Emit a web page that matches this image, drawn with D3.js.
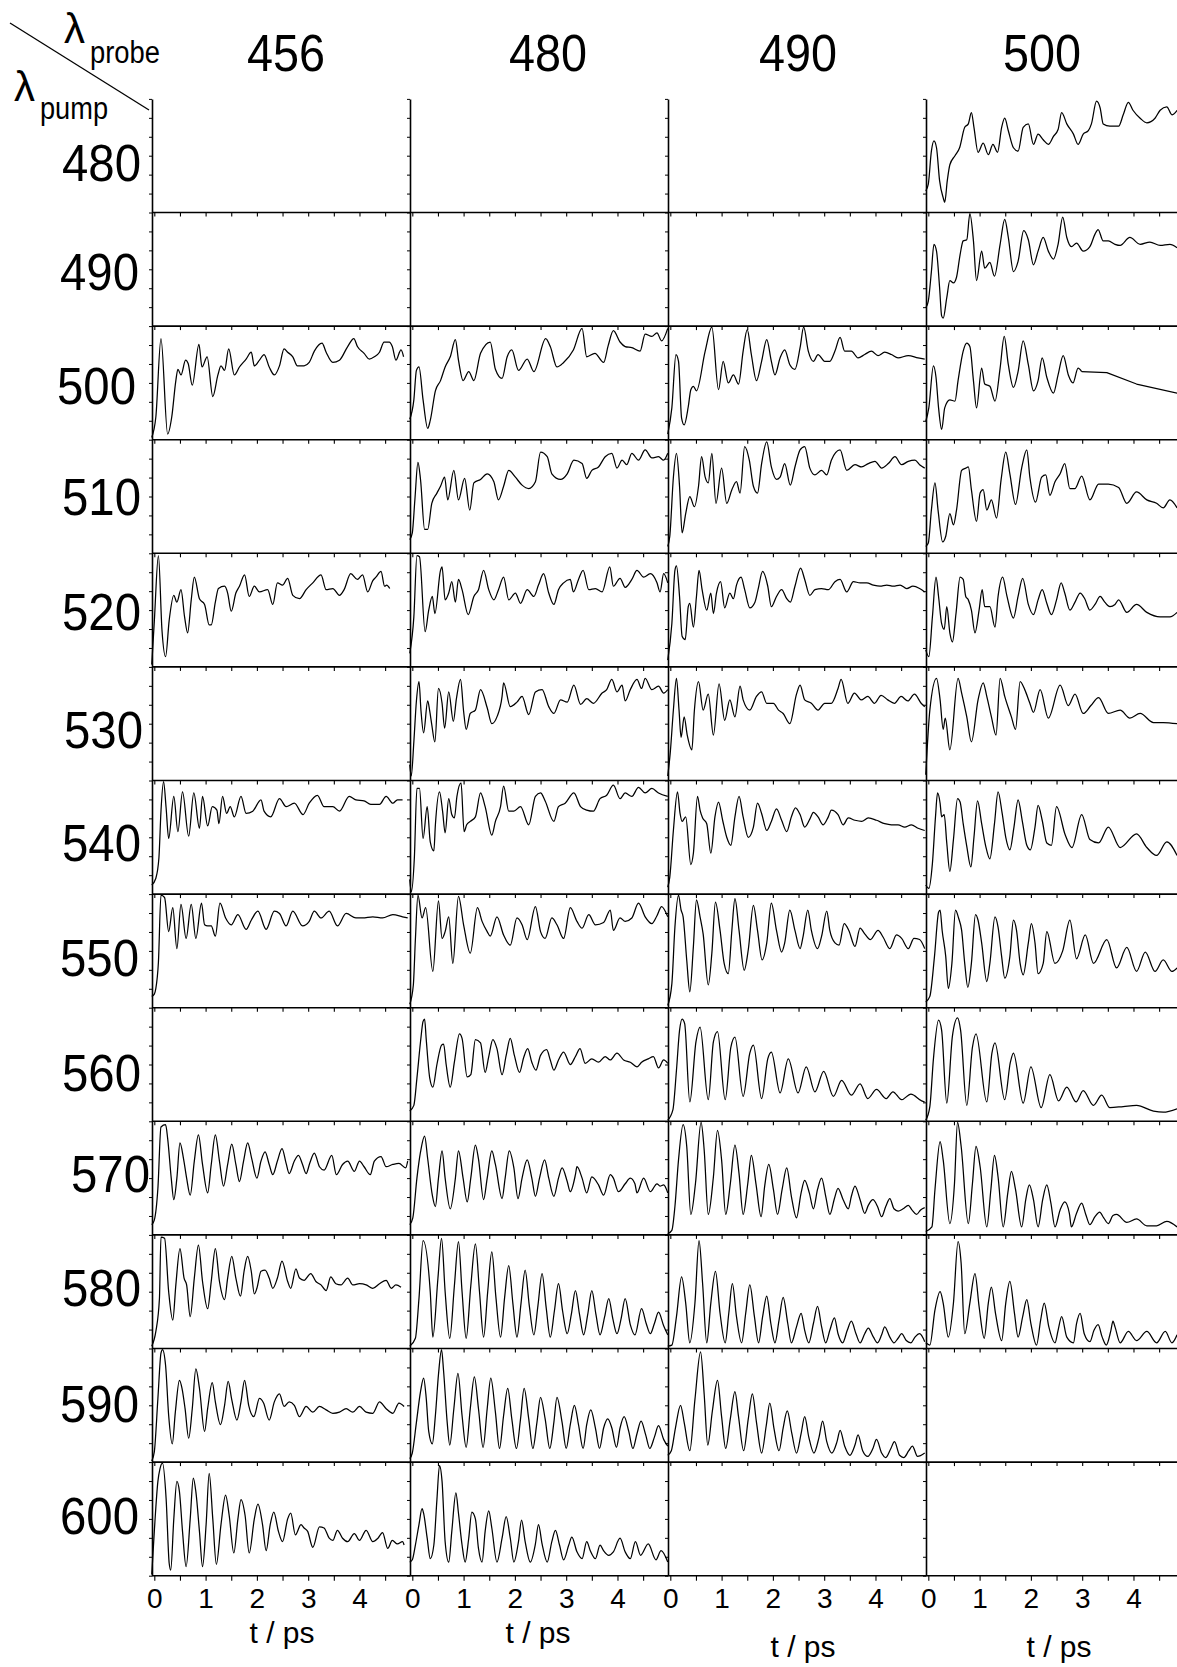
<!DOCTYPE html>
<html><head><meta charset="utf-8">
<script src="https://cdn.jsdelivr.net/npm/d3@7"></script>
<style>
body{margin:0;background:#fff}
svg{display:block}
text{font-family:"Liberation Sans",Arial,Helvetica,sans-serif;fill:#000}
</style>
</head><body>
<svg id="chart" width="1177" height="1667"></svg>
<script>
// ---------------- categories & ticks ----------------
const probeWavelengths = [456, 480, 490, 500];
const pumpWavelengths = [480, 490, 500, 510, 520, 530, 540, 550, 560, 570, 580, 590, 600];
const timeTickLabels = [0, 1, 2, 3, 4];
const timeMinorTicks = [0, 0.5, 1, 1.5, 2, 2.5, 3, 3.5, 4, 4.5];
const timeDomain = [-0.045, 4.985];
const signalDomain = [0, 100];

// ---------------- traces: [t (ps), normalised signal (%)] ----------------
const d480_500 = [[-0.05,19],[0.0,25],[0.06,54],[0.11,63],[0.16,57],[0.22,28],[0.29,13],[0.32,9],[0.37,28],[0.42,42],[0.52,50],[0.61,57],[0.71,75],[0.78,78],[0.84,88],[0.89,75],[0.97,53],[1.07,61],[1.17,51],[1.26,60],[1.35,53],[1.43,75],[1.49,83],[1.56,72],[1.66,57],[1.75,54],[1.85,75],[1.95,78],[2.05,60],[2.14,69],[2.24,64],[2.34,60],[2.44,67],[2.53,73],[2.60,88],[2.70,78],[2.83,69],[2.92,60],[3.02,69],[3.12,72],[3.18,78],[3.28,98],[3.35,92],[3.41,78],[3.54,76],[3.71,76],[3.80,86],[3.90,97],[3.99,90],[4.13,83],[4.26,79],[4.42,83],[4.52,90],[4.65,93],[4.75,86],[4.85,90]];
const d490_500 = [[-0.05,16],[0.0,22],[0.06,48],[0.11,72],[0.16,66],[0.22,34],[0.26,9],[0.29,7],[0.36,25],[0.42,40],[0.49,38],[0.55,43],[0.62,63],[0.68,75],[0.75,76],[0.81,99],[0.88,75],[0.94,40],[1.04,66],[1.10,51],[1.20,56],[1.29,44],[1.40,72],[1.49,94],[1.56,78],[1.66,48],[1.75,57],[1.86,84],[1.95,76],[2.05,54],[2.14,66],[2.24,78],[2.34,66],[2.44,59],[2.53,72],[2.62,96],[2.70,78],[2.79,70],[2.89,73],[3.02,66],[3.15,70],[3.25,81],[3.31,85],[3.41,75],[3.51,75],[3.64,72],[3.74,71],[3.93,78],[4.13,72],[4.32,74],[4.52,71],[4.71,72],[4.85,69]];
const d500_456 = [[-0.05,2],[0.03,20],[0.13,89],[0.26,5],[0.34,20],[0.42,52],[0.46,62],[0.52,57],[0.61,70],[0.66,67],[0.74,48],[0.87,84],[0.93,64],[1.03,73],[1.14,38],[1.24,57],[1.30,65],[1.37,61],[1.45,80],[1.56,57],[1.66,64],[1.79,71],[1.89,77],[1.95,65],[2.05,70],[2.14,75],[2.24,64],[2.34,57],[2.44,65],[2.53,80],[2.60,77],[2.70,73],[2.79,65],[2.92,65],[3.02,68],[3.12,78],[3.27,85],[3.35,77],[3.48,68],[3.61,70],[3.77,82],[3.89,89],[3.96,82],[4.09,76],[4.19,71],[4.29,73],[4.39,77],[4.48,86],[4.58,86],[4.64,82],[4.71,70],[4.81,79],[4.86,73]];
const d500_480 = [[-0.05,18],[0.03,35],[0.08,61],[0.13,64],[0.21,35],[0.30,10],[0.35,17],[0.45,43],[0.55,52],[0.64,64],[0.74,73],[0.84,88],[0.90,70],[0.99,52],[1.10,60],[1.20,52],[1.33,76],[1.52,86],[1.62,62],[1.75,54],[1.85,73],[1.94,79],[2.07,61],[2.24,71],[2.37,60],[2.60,89],[2.69,82],[2.82,64],[2.95,68],[3.14,79],[3.31,98],[3.40,73],[3.56,76],[3.73,68],[3.82,83],[3.92,96],[4.05,86],[4.15,82],[4.28,81],[4.44,78],[4.54,93],[4.67,91],[4.77,94],[4.86,87],[4.98,98]];
const d500_490 = [[-0.05,5],[0.03,28],[0.11,75],[0.16,69],[0.22,19],[0.27,13],[0.35,29],[0.40,44],[0.45,47],[0.51,43],[0.68,78],[0.81,99],[0.94,44],[1.03,69],[1.13,50],[1.23,57],[1.33,49],[1.42,78],[1.50,97],[1.58,75],[1.68,52],[1.78,69],[1.88,88],[1.97,69],[2.04,57],[2.14,72],[2.23,79],[2.33,66],[2.43,62],[2.53,81],[2.60,99],[2.69,78],[2.79,69],[2.88,75],[3.01,69],[3.11,69],[3.21,78],[3.31,90],[3.40,78],[3.53,78],[3.66,72],[3.79,75],[3.92,78],[4.05,74],[4.18,77],[4.31,75],[4.44,72],[4.64,74],[4.83,72],[4.96,71]];
const d500_500 = [[-0.05,16],[0.01,28],[0.10,65],[0.15,55],[0.20,28],[0.26,9],[0.32,28],[0.42,35],[0.52,34],[0.58,52],[0.68,78],[0.75,85],[0.81,82],[0.88,52],[0.94,28],[1.04,63],[1.10,49],[1.20,47],[1.30,34],[1.40,63],[1.48,91],[1.56,66],[1.66,46],[1.75,60],[1.85,87],[1.95,66],[2.05,43],[2.14,52],[2.22,72],[2.31,55],[2.44,41],[2.53,57],[2.63,74],[2.73,57],[2.82,50],[2.92,63],[2.99,60],[3.48,59],[4.06,49],[4.85,41]];
const d510_480 = [[-0.05,12],[0.0,18],[0.05,47],[0.11,80],[0.16,65],[0.24,21],[0.30,21],[0.38,44],[0.48,53],[0.55,59],[0.63,67],[0.69,47],[0.81,73],[0.90,47],[1.02,66],[1.12,38],[1.20,62],[1.33,65],[1.46,70],[1.59,63],[1.68,47],[1.78,59],[1.88,73],[2.01,67],[2.14,60],[2.27,57],[2.40,63],[2.50,89],[2.63,85],[2.72,70],[2.89,65],[3.02,70],[3.15,82],[3.31,79],[3.40,66],[3.50,73],[3.63,76],[3.76,85],[3.89,88],[3.99,75],[4.09,82],[4.18,78],[4.28,88],[4.41,82],[4.54,91],[4.67,84],[4.80,85],[4.90,82],[4.98,88]];
const d510_490 = [[-0.05,6],[-0.01,15],[0.06,67],[0.12,88],[0.18,59],[0.23,18],[0.30,35],[0.38,50],[0.47,41],[0.55,59],[0.61,85],[0.68,67],[0.74,62],[0.81,88],[0.89,44],[1.0,75],[1.10,44],[1.20,56],[1.29,63],[1.36,53],[1.45,94],[1.54,82],[1.62,59],[1.70,53],[1.78,79],[1.88,98],[1.97,76],[2.07,65],[2.14,67],[2.23,79],[2.34,60],[2.43,76],[2.53,91],[2.62,94],[2.72,75],[2.82,69],[2.95,73],[3.05,69],[3.14,82],[3.31,91],[3.44,73],[3.60,78],[3.73,76],[3.86,79],[3.99,81],[4.12,75],[4.25,79],[4.38,85],[4.51,78],[4.64,81],[4.77,82],[4.86,78],[4.96,75]];
const d510_500 = [[-0.05,6],[0.0,9],[0.06,38],[0.13,62],[0.19,38],[0.28,10],[0.34,15],[0.42,35],[0.49,25],[0.55,38],[0.65,73],[0.73,75],[0.78,76],[0.84,56],[0.94,28],[1.01,53],[1.07,56],[1.14,38],[1.23,47],[1.33,31],[1.42,65],[1.51,89],[1.59,70],[1.70,43],[1.82,75],[1.92,91],[1.98,67],[2.09,45],[2.21,67],[2.29,69],[2.37,51],[2.47,63],[2.57,70],[2.66,79],[2.76,57],[2.86,57],[2.99,68],[3.15,47],[3.32,61],[3.51,61],[3.71,58],[3.87,44],[4.06,54],[4.26,47],[4.45,44],[4.58,40],[4.71,47],[4.85,40]];
const d520_456 = [[-0.05,2],[0.0,40],[0.08,98],[0.15,32],[0.22,9],[0.29,41],[0.38,63],[0.44,57],[0.52,68],[0.59,44],[0.65,30],[0.72,59],[0.78,79],[0.88,60],[0.98,55],[1.07,37],[1.11,37],[1.19,57],[1.25,69],[1.37,71],[1.43,65],[1.50,49],[1.59,65],[1.66,71],[1.76,81],[1.85,62],[1.95,71],[2.05,66],[2.21,68],[2.31,55],[2.40,74],[2.50,72],[2.60,78],[2.70,63],[2.83,60],[2.96,68],[3.09,74],[3.25,81],[3.35,68],[3.48,69],[3.61,63],[3.70,68],[3.83,82],[3.96,77],[4.06,81],[4.16,66],[4.26,76],[4.32,79],[4.42,84],[4.49,71],[4.53,72],[4.59,69]];
const d520_480 = [[-0.05,12],[0.03,44],[0.09,98],[0.14,97],[0.25,31],[0.32,50],[0.39,62],[0.44,47],[0.55,85],[0.58,88],[0.64,59],[0.71,65],[0.77,75],[0.84,57],[0.90,77],[0.97,68],[1.09,46],[1.20,62],[1.29,68],[1.39,85],[1.49,68],[1.59,59],[1.68,68],[1.78,79],[1.88,59],[2.01,65],[2.11,56],[2.24,68],[2.37,62],[2.46,72],[2.56,82],[2.66,65],[2.76,55],[2.85,68],[2.95,74],[3.08,77],[3.14,66],[3.24,77],[3.33,85],[3.44,68],[3.57,69],[3.70,66],[3.85,88],[3.92,71],[4.05,78],[4.15,70],[4.28,77],[4.38,85],[4.51,79],[4.64,82],[4.77,74],[4.83,66],[4.90,82],[4.98,74]];
const d520_490 = [[-0.05,6],[0.03,38],[0.09,85],[0.12,89],[0.18,62],[0.23,27],[0.29,24],[0.35,53],[0.38,56],[0.45,35],[0.51,62],[0.56,85],[0.62,68],[0.71,50],[0.79,65],[0.84,47],[0.90,65],[0.98,75],[1.06,52],[1.16,65],[1.23,60],[1.29,72],[1.38,79],[1.45,68],[1.55,52],[1.65,57],[1.71,68],[1.80,84],[1.90,71],[1.97,53],[2.07,62],[2.17,68],[2.27,60],[2.34,57],[2.43,71],[2.54,87],[2.62,77],[2.72,63],[2.82,68],[2.95,69],[3.08,68],[3.21,75],[3.31,77],[3.44,66],[3.57,75],[3.70,74],[3.83,74],[3.96,72],[4.09,71],[4.22,72],[4.35,71],[4.48,72],[4.61,69],[4.73,71],[4.86,69],[4.96,66]];
const d520_500 = [[-0.05,15],[0.01,9],[0.08,44],[0.15,79],[0.20,62],[0.26,38],[0.31,33],[0.36,53],[0.42,30],[0.47,22],[0.54,47],[0.62,79],[0.68,77],[0.73,62],[0.78,59],[0.84,50],[0.91,30],[0.99,50],[1.05,68],[1.10,53],[1.20,53],[1.30,35],[1.36,62],[1.45,79],[1.53,63],[1.66,43],[1.75,62],[1.84,78],[1.95,55],[2.05,46],[2.14,59],[2.22,68],[2.31,56],[2.40,46],[2.50,59],[2.59,74],[2.66,65],[2.76,50],[2.86,57],[2.96,65],[3.05,60],[3.15,50],[3.25,55],[3.35,62],[3.44,57],[3.54,53],[3.64,55],[3.71,59],[3.87,48],[4.06,55],[4.26,48],[4.52,44],[4.71,44],[4.85,48]];
const d530_480 = [[-0.05,14],[-0.02,4],[0.03,34],[0.08,70],[0.13,87],[0.17,61],[0.22,42],[0.30,70],[0.34,61],[0.38,49],[0.44,34],[0.51,81],[0.58,68],[0.63,46],[0.71,78],[0.80,52],[0.86,72],[0.94,89],[1.00,61],[1.05,45],[1.13,59],[1.23,62],[1.33,80],[1.46,64],[1.55,50],[1.65,56],[1.75,74],[1.78,86],[1.91,65],[2.04,69],[2.14,74],[2.27,58],[2.40,78],[2.53,80],[2.66,65],[2.76,59],[2.89,71],[3.02,69],[3.15,84],[3.28,67],[3.40,72],[3.53,68],[3.70,77],[3.79,80],[3.89,89],[3.99,78],[4.09,84],[4.15,70],[4.25,80],[4.38,89],[4.47,81],[4.54,90],[4.67,80],[4.80,83],[4.90,77],[4.98,80]];
const d530_490 = [[-0.05,4],[0.0,25],[0.06,62],[0.12,90],[0.17,62],[0.21,38],[0.27,56],[0.33,40],[0.42,27],[0.47,62],[0.55,87],[0.64,62],[0.74,76],[0.84,40],[0.95,85],[1.06,53],[1.16,71],[1.26,56],[1.36,83],[1.42,71],[1.55,62],[1.68,74],[1.78,78],[1.88,68],[2.01,68],[2.11,62],[2.20,59],[2.33,50],[2.46,76],[2.53,84],[2.62,71],[2.75,68],[2.88,62],[3.01,68],[3.14,68],[3.27,81],[3.33,89],[3.46,68],[3.59,77],[3.72,71],[3.85,74],[3.98,68],[4.11,75],[4.24,71],[4.37,68],[4.50,74],[4.63,70],[4.76,76],[4.89,68],[4.96,65]];
const d530_500 = [[-0.05,5],[0.03,62],[0.16,90],[0.23,71],[0.29,45],[0.33,55],[0.42,27],[0.58,90],[0.65,77],[0.75,56],[0.84,34],[0.97,71],[1.07,86],[1.14,74],[1.23,56],[1.32,40],[1.40,90],[1.49,74],[1.62,56],[1.70,45],[1.79,87],[1.88,80],[1.98,68],[2.05,60],[2.18,80],[2.34,55],[2.57,84],[2.73,66],[2.86,76],[3.02,59],[3.17,66],[3.32,73],[3.51,59],[3.74,62],[3.93,55],[4.13,59],[4.39,51],[4.58,51],[4.85,50]];
const d540_456 = [[-0.05,8],[0.03,14],[0.09,32],[0.13,73],[0.18,99],[0.23,76],[0.28,49],[0.38,86],[0.46,55],[0.55,90],[0.67,51],[0.77,89],[0.88,58],[0.94,86],[1.04,60],[1.13,77],[1.22,74],[1.26,62],[1.33,86],[1.41,71],[1.48,77],[1.56,68],[1.69,86],[1.79,71],[1.92,73],[2.08,83],[2.14,73],[2.27,68],[2.44,84],[2.57,77],[2.73,80],[2.90,70],[3.02,80],[3.18,87],[3.31,77],[3.48,77],[3.61,73],[3.80,86],[3.93,83],[4.09,82],[4.22,79],[4.39,79],[4.52,86],[4.65,80],[4.74,83],[4.84,83]];
const d540_480 = [[-0.05,13],[-0.02,2],[0.04,32],[0.09,93],[0.14,93],[0.21,49],[0.29,77],[0.35,46],[0.42,38],[0.45,61],[0.53,90],[0.59,73],[0.64,54],[0.71,84],[0.77,70],[0.82,67],[0.87,86],[0.95,98],[1.01,55],[1.06,61],[1.13,64],[1.23,68],[1.33,89],[1.42,77],[1.55,52],[1.62,64],[1.72,77],[1.78,95],[1.88,73],[1.98,73],[2.11,77],[2.27,61],[2.40,86],[2.50,89],[2.59,82],[2.76,64],[2.85,77],[2.98,80],[3.15,89],[3.28,77],[3.40,74],[3.53,73],[3.66,84],[3.79,87],[3.92,96],[4.05,84],[4.15,89],[4.28,86],[4.41,94],[4.54,89],[4.67,93],[4.80,89],[4.98,86]];
const d540_490 = [[-0.05,6],[-0.01,15],[0.06,56],[0.14,90],[0.19,71],[0.23,64],[0.30,68],[0.40,26],[0.45,36],[0.53,86],[0.58,74],[0.63,67],[0.71,62],[0.79,36],[0.87,68],[0.94,81],[1.02,65],[1.10,50],[1.18,43],[1.26,68],[1.34,86],[1.42,68],[1.52,50],[1.62,59],[1.70,80],[1.78,71],[1.88,56],[1.97,64],[2.07,75],[2.17,65],[2.27,55],[2.36,68],[2.44,76],[2.53,70],[2.62,59],[2.72,66],[2.79,72],[2.88,68],[2.98,61],[3.08,68],[3.14,74],[3.27,70],[3.37,61],[3.47,67],[3.60,65],[3.73,64],[3.86,67],[4.02,65],[4.18,62],[4.31,61],[4.44,61],[4.57,59],[4.70,61],[4.83,58],[4.96,56]];
const d540_500 = [[-0.05,8],[0.01,5],[0.08,27],[0.14,68],[0.18,89],[0.23,80],[0.26,68],[0.31,70],[0.36,45],[0.42,20],[0.49,48],[0.57,84],[0.62,81],[0.68,62],[0.75,42],[0.83,24],[0.89,50],[0.96,82],[1.04,62],[1.12,42],[1.20,31],[1.29,62],[1.36,90],[1.44,71],[1.51,50],[1.59,39],[1.67,59],[1.75,83],[1.83,65],[1.92,43],[1.99,39],[2.08,59],[2.14,78],[2.22,65],[2.31,45],[2.40,43],[2.50,77],[2.67,52],[2.80,41],[2.99,70],[3.15,48],[3.32,45],[3.51,59],[3.74,41],[4.06,53],[4.26,41],[4.45,34],[4.65,46],[4.85,34]];
const d550_456 = [[-0.05,10],[0.0,12],[0.03,17],[0.08,40],[0.13,99],[0.20,97],[0.28,67],[0.36,88],[0.44,52],[0.52,91],[0.62,61],[0.72,91],[0.81,61],[0.92,92],[0.98,73],[1.04,72],[1.11,72],[1.19,63],[1.28,92],[1.39,79],[1.50,73],[1.63,82],[1.79,69],[1.89,77],[2.02,85],[2.18,69],[2.34,85],[2.44,83],[2.57,72],[2.70,85],[2.89,72],[3.02,76],[3.12,85],[3.25,79],[3.41,85],[3.57,72],[3.74,83],[3.93,79],[4.06,79],[4.26,80],[4.45,79],[4.65,82],[4.84,80],[4.94,79]];
const d550_480 = [[-0.05,3],[0.02,20],[0.06,60],[0.11,99],[0.19,79],[0.26,88],[0.40,32],[0.51,94],[0.58,61],[0.64,67],[0.71,80],[0.79,39],[0.90,98],[1.00,73],[1.13,48],[1.27,88],[1.36,76],[1.46,67],[1.52,63],[1.65,80],[1.78,64],[1.91,55],[2.04,79],[2.14,73],[2.24,60],[2.40,89],[2.50,67],[2.59,61],[2.72,79],[2.82,73],[2.95,61],[3.08,88],[3.21,76],[3.31,70],[3.44,82],[3.57,73],[3.73,75],[3.86,86],[3.92,68],[4.05,79],[4.15,76],[4.28,79],[4.41,92],[4.54,80],[4.67,74],[4.77,81],[4.86,89],[4.98,80]];
const d550_490 = [[-0.05,2],[0.03,21],[0.09,71],[0.16,99],[0.21,86],[0.25,80],[0.32,42],[0.38,14],[0.45,54],[0.51,95],[0.58,80],[0.64,65],[0.74,20],[0.81,48],[0.88,93],[0.97,68],[1.05,39],[1.13,30],[1.20,68],[1.26,96],[1.34,68],[1.44,33],[1.52,51],[1.62,90],[1.70,68],[1.79,42],[1.88,57],[1.97,92],[2.07,68],[2.17,49],[2.23,57],[2.33,86],[2.43,68],[2.53,52],[2.59,63],[2.68,86],[2.75,68],[2.87,52],[2.95,63],[3.05,85],[3.11,68],[3.21,57],[3.29,55],[3.39,74],[3.48,68],[3.60,54],[3.70,70],[3.79,65],[3.90,60],[4.05,68],[4.15,62],[4.28,52],[4.41,64],[4.51,61],[4.64,52],[4.75,61],[4.86,60],[4.96,52]];
const d550_500 = [[-0.05,5],[0.03,10],[0.12,45],[0.20,84],[0.23,86],[0.27,68],[0.34,45],[0.39,17],[0.46,39],[0.53,86],[0.59,79],[0.65,68],[0.71,39],[0.77,18],[0.84,39],[0.92,82],[0.97,77],[1.04,57],[1.14,23],[1.20,39],[1.30,80],[1.36,71],[1.43,45],[1.49,26],[1.59,45],[1.66,77],[1.72,68],[1.79,39],[1.85,29],[1.95,57],[2.01,74],[2.08,57],[2.14,30],[2.24,39],[2.31,67],[2.47,39],[2.62,50],[2.76,77],[2.89,43],[3.06,64],[3.22,39],[3.48,60],[3.67,35],[3.87,53],[4.06,32],[4.23,49],[4.42,32],[4.58,42],[4.75,32],[4.85,35]];
const d560_480 = [[-0.05,9],[0.03,14],[0.09,38],[0.16,70],[0.21,88],[0.24,90],[0.27,73],[0.34,38],[0.40,30],[0.48,50],[0.57,67],[0.61,68],[0.66,50],[0.74,30],[0.82,52],[0.92,77],[0.97,73],[1.07,39],[1.14,41],[1.23,72],[1.33,69],[1.42,43],[1.49,57],[1.57,72],[1.65,64],[1.75,41],[1.83,58],[1.91,73],[1.99,58],[2.09,43],[2.17,56],[2.25,64],[2.33,52],[2.41,45],[2.50,58],[2.62,63],[2.69,54],[2.76,45],[2.85,54],[2.95,61],[3.08,50],[3.18,57],[3.27,64],[3.37,51],[3.50,55],[3.63,52],[3.76,57],[3.86,54],[3.99,60],[4.12,54],[4.25,52],[4.38,48],[4.47,52],[4.6,55],[4.70,57],[4.8,47],[4.9,54],[4.98,51]];
const d560_490 = [[-0.05,1],[0.05,10],[0.12,45],[0.18,80],[0.23,90],[0.28,86],[0.38,17],[0.50,70],[0.58,83],[0.74,19],[0.84,70],[0.92,79],[1.07,19],[1.18,65],[1.26,74],[1.42,22],[1.55,60],[1.62,67],[1.78,20],[1.90,55],[1.97,61],[2.14,25],[2.30,55],[2.49,25],[2.65,48],[2.82,26],[2.99,44],[3.18,22],[3.34,36],[3.53,23],[3.70,33],[3.85,20],[4.02,28],[4.21,20],[4.34,26],[4.51,19],[4.69,24],[4.90,18],[4.96,17]];
const d560_500 = [[-0.05,1],[0.03,13],[0.10,55],[0.20,89],[0.26,80],[0.36,16],[0.47,75],[0.57,91],[0.63,80],[0.75,14],[0.86,65],[0.93,77],[1.14,17],[1.24,60],[1.30,69],[1.49,19],[1.60,52],[1.66,60],[1.85,16],[2.0,48],[2.20,12],[2.37,41],[2.54,18],[2.70,30],[2.88,17],[3.02,27],[3.22,14],[3.38,23],[3.54,12],[3.80,13],[4.06,14],[4.39,9],[4.58,8],[4.85,11]];
const d570_456 = [[-0.05,9],[0.0,13],[0.07,41],[0.13,95],[0.22,97],[0.26,85],[0.33,50],[0.38,31],[0.44,50],[0.50,81],[0.57,67],[0.63,50],[0.70,35],[0.78,65],[0.86,88],[0.94,62],[1.04,37],[1.11,62],[1.19,88],[1.27,65],[1.35,43],[1.43,62],[1.51,80],[1.59,62],[1.66,47],[1.74,65],[1.82,81],[1.90,67],[2.00,50],[2.08,65],[2.16,73],[2.24,62],[2.31,53],[2.40,65],[2.49,76],[2.57,63],[2.63,54],[2.73,65],[2.81,70],[2.89,62],[2.96,54],[3.03,63],[3.12,72],[3.22,60],[3.31,57],[3.46,70],[3.55,53],[3.67,62],[3.77,65],[3.90,56],[4.00,65],[4.09,60],[4.21,53],[4.29,65],[4.42,69],[4.52,60],[4.65,62],[4.77,63],[4.90,59],[4.94,65]];
const d570_480 = [[-0.05,9],[0.01,15],[0.09,50],[0.16,73],[0.24,87],[0.30,67],[0.39,35],[0.45,25],[0.51,50],[0.58,74],[0.64,50],[0.74,23],[0.84,50],[0.90,74],[0.99,50],[1.07,29],[1.14,50],[1.23,79],[1.29,67],[1.39,31],[1.46,50],[1.55,74],[1.62,62],[1.75,32],[1.81,50],[1.89,74],[1.98,59],[2.06,32],[2.14,50],[2.24,66],[2.33,50],[2.40,34],[2.48,50],[2.58,66],[2.66,50],[2.76,34],[2.85,50],[2.92,59],[3.02,47],[3.08,38],[3.18,53],[3.21,60],[3.31,50],[3.40,37],[3.50,51],[3.63,44],[3.73,35],[3.86,53],[3.92,50],[4.02,38],[4.15,45],[4.25,50],[4.34,45],[4.38,37],[4.51,50],[4.64,38],[4.77,45],[4.83,43],[4.90,44],[4.98,37]];
const d570_490 = [[-0.05,1],[0.03,4],[0.09,25],[0.16,66],[0.25,97],[0.32,78],[0.40,18],[0.49,45],[0.60,99],[0.66,75],[0.74,18],[0.84,51],[0.92,92],[1.0,66],[1.08,18],[1.17,45],[1.26,79],[1.34,54],[1.42,18],[1.51,45],[1.58,70],[1.67,45],[1.77,16],[1.84,43],[1.92,62],[2.01,40],[2.09,18],[2.18,40],[2.27,59],[2.36,34],[2.46,15],[2.55,37],[2.62,48],[2.71,37],[2.79,23],[2.87,40],[2.95,50],[3.03,34],[3.11,18],[3.20,32],[3.27,41],[3.37,31],[3.47,23],[3.53,34],[3.60,43],[3.70,31],[3.79,19],[3.86,26],[3.95,31],[4.04,25],[4.12,16],[4.20,25],[4.28,32],[4.36,23],[4.44,21],[4.54,23],[4.64,26],[4.71,22],[4.80,18],[4.88,22],[4.96,24]];
const d570_500 = [[-0.05,3],[0.07,7],[0.13,40],[0.23,82],[0.29,66],[0.42,10],[0.51,45],[0.57,99],[0.64,78],[0.78,10],[0.86,45],[0.93,78],[1.01,60],[1.14,7],[1.22,40],[1.29,70],[1.36,51],[1.46,7],[1.55,37],[1.62,56],[1.70,40],[1.82,7],[1.90,31],[1.97,44],[2.05,31],[2.14,7],[2.23,31],[2.31,44],[2.39,28],[2.47,7],[2.57,22],[2.66,29],[2.75,19],[2.79,7],[2.89,19],[2.99,28],[3.07,18],[3.15,9],[3.25,16],[3.34,20],[3.42,15],[3.51,10],[3.60,17],[3.67,18],[3.87,11],[4.06,14],[4.26,8],[4.45,8],[4.65,12],[4.85,7]];
const d580_456 = [[-0.05,2],[0.03,15],[0.10,44],[0.13,98],[0.20,97],[0.28,50],[0.36,25],[0.42,56],[0.50,88],[0.58,62],[0.63,56],[0.70,28],[0.78,62],[0.86,91],[0.94,59],[1.04,35],[1.11,59],[1.19,88],[1.27,59],[1.37,43],[1.43,62],[1.51,81],[1.59,62],[1.68,46],[1.75,68],[1.82,81],[1.89,68],[1.95,48],[2.0,53],[2.08,68],[2.16,69],[2.24,62],[2.31,53],[2.40,62],[2.49,77],[2.60,59],[2.66,53],[2.76,70],[2.83,62],[2.92,60],[3.05,66],[3.15,59],[3.25,56],[3.35,51],[3.44,63],[3.54,57],[3.64,56],[3.77,62],[3.87,56],[4.0,57],[4.13,56],[4.26,53],[4.39,57],[4.52,60],[4.62,53],[4.71,56],[4.81,54]];
const d580_480 = [[-0.05,2],[0.06,9],[0.13,44],[0.21,95],[0.35,50],[0.40,10],[0.50,62],[0.57,97],[0.64,50],[0.73,9],[0.82,55],[0.90,94],[0.97,50],[1.05,9],[1.14,55],[1.23,92],[1.31,50],[1.39,10],[1.47,50],[1.55,85],[1.63,45],[1.72,10],[1.80,45],[1.88,73],[1.96,40],[2.04,10],[2.12,40],[2.20,69],[2.28,38],[2.37,12],[2.45,38],[2.53,66],[2.61,36],[2.69,10],[2.77,33],[2.85,57],[2.93,33],[3.02,13],[3.10,30],[3.18,51],[3.26,30],[3.34,12],[3.42,30],[3.50,51],[3.58,30],[3.66,12],[3.75,28],[3.83,44],[3.91,26],[3.99,13],[4.07,26],[4.15,44],[4.25,21],[4.34,12],[4.47,35],[4.56,22],[4.64,13],[4.72,22],[4.80,32],[4.90,20],[4.98,12]];
const d580_490 = [[-0.05,2],[0.03,3],[0.12,28],[0.22,63],[0.30,40],[0.38,5],[0.48,40],[0.56,95],[0.63,57],[0.71,5],[0.79,40],[0.88,68],[0.97,31],[1.07,5],[1.14,31],[1.21,57],[1.29,28],[1.39,5],[1.47,31],[1.55,56],[1.64,28],[1.72,5],[1.80,28],[1.88,46],[1.96,22],[2.04,5],[2.12,25],[2.20,45],[2.29,22],[2.36,5],[2.46,19],[2.55,31],[2.62,16],[2.70,5],[2.79,22],[2.87,37],[2.95,19],[3.03,5],[3.11,16],[3.20,27],[3.27,13],[3.36,5],[3.45,16],[3.53,24],[3.62,13],[3.70,5],[3.79,13],[3.86,18],[3.96,10],[4.04,5],[4.12,12],[4.18,19],[4.28,10],[4.36,5],[4.44,9],[4.51,13],[4.60,7],[4.69,5],[4.77,10],[4.86,13],[4.96,6]];
const d580_500 = [[-0.05,5],[0.03,3],[0.13,34],[0.23,50],[0.29,40],[0.39,10],[0.49,40],[0.58,94],[0.64,75],[0.71,13],[0.81,40],[0.91,66],[0.99,37],[1.09,9],[1.17,40],[1.23,54],[1.31,31],[1.43,7],[1.51,40],[1.59,59],[1.68,31],[1.75,10],[1.84,28],[1.92,43],[2.0,22],[2.11,3],[2.19,25],[2.26,40],[2.35,19],[2.47,5],[2.53,16],[2.60,28],[2.70,10],[2.83,5],[2.89,22],[2.96,31],[3.04,13],[3.15,6],[3.23,16],[3.31,21],[3.39,10],[3.47,3],[3.56,16],[3.60,24],[3.64,19],[3.74,5],[3.90,15],[4.06,7],[4.26,15],[4.45,5],[4.62,15],[4.75,5],[4.85,12]];
const d590_456 = [[-0.05,1],[0.0,9],[0.07,56],[0.13,96],[0.16,99],[0.22,85],[0.28,41],[0.35,16],[0.41,44],[0.49,72],[0.54,65],[0.60,47],[0.67,21],[0.74,47],[0.81,82],[0.88,65],[0.98,27],[1.04,47],[1.13,70],[1.19,53],[1.29,33],[1.37,50],[1.44,71],[1.51,55],[1.61,37],[1.69,53],[1.76,72],[1.84,50],[1.94,40],[2.05,56],[2.13,52],[2.24,37],[2.34,53],[2.44,60],[2.53,49],[2.63,53],[2.73,50],[2.83,40],[2.96,49],[3.09,44],[3.22,49],[3.35,46],[3.48,43],[3.61,44],[3.74,47],[3.87,44],[4.0,49],[4.13,44],[4.26,43],[4.39,53],[4.52,47],[4.65,43],[4.77,52],[4.87,49]];
const d590_480 = [[-0.05,3],[0.0,8],[0.08,35],[0.16,62],[0.22,74],[0.27,57],[0.32,27],[0.39,16],[0.45,41],[0.51,77],[0.57,99],[0.61,80],[0.68,35],[0.73,15],[0.81,47],[0.89,78],[0.97,41],[1.05,13],[1.13,47],[1.21,75],[1.29,47],[1.38,13],[1.46,47],[1.53,74],[1.62,44],[1.70,12],[1.78,41],[1.86,65],[1.94,38],[2.03,12],[2.11,38],[2.18,65],[2.27,38],[2.35,12],[2.43,35],[2.50,57],[2.59,38],[2.68,12],[2.76,35],[2.82,57],[2.92,35],[3.0,12],[3.08,33],[3.16,50],[3.24,33],[3.33,12],[3.40,33],[3.48,46],[3.57,30],[3.65,12],[3.73,30],[3.81,38],[3.89,30],[3.98,13],[4.05,30],[4.13,40],[4.22,27],[4.30,12],[4.38,25],[4.46,36],[4.55,24],[4.63,12],[4.72,22],[4.80,32],[4.90,20],[4.98,14]];
const d590_490 = [[-0.05,6],[0.02,10],[0.10,30],[0.20,50],[0.27,35],[0.38,10],[0.48,55],[0.59,97],[0.66,60],[0.73,15],[0.82,45],[0.92,72],[1.0,40],[1.08,12],[1.17,38],[1.26,62],[1.33,40],[1.43,10],[1.52,38],[1.60,60],[1.68,35],[1.78,8],[1.87,32],[1.94,52],[2.02,30],[2.12,10],[2.20,30],[2.28,45],[2.37,25],[2.46,8],[2.55,25],[2.62,40],[2.70,22],[2.80,8],[2.90,22],[2.97,36],[3.05,18],[3.15,8],[3.25,18],[3.31,28],[3.40,14],[3.50,6],[3.60,15],[3.66,24],[3.75,10],[3.85,5],[3.95,12],[4.02,20],[4.12,8],[4.20,4],[4.30,12],[4.37,18],[4.47,6],[4.55,4],[4.65,10],[4.72,14],[4.82,5],[4.96,8]];
const d600_456 = [[-0.05,1],[0.0,39],[0.07,83],[0.11,94],[0.16,99],[0.23,68],[0.29,11],[0.32,5],[0.38,50],[0.44,83],[0.49,74],[0.55,39],[0.62,8],[0.70,50],[0.76,86],[0.81,74],[0.88,39],[0.94,8],[1.01,45],[1.07,90],[1.14,50],[1.21,10],[1.30,45],[1.39,71],[1.46,53],[1.55,20],[1.63,50],[1.69,67],[1.77,53],[1.85,20],[1.95,50],[2.02,63],[2.11,45],[2.18,22],[2.26,45],[2.33,56],[2.42,39],[2.50,30],[2.60,50],[2.66,55],[2.75,36],[2.86,45],[2.92,42],[2.99,39],[3.09,25],[3.22,43],[3.31,42],[3.41,33],[3.48,31],[3.57,40],[3.67,33],[3.77,30],[3.90,37],[4.0,31],[4.13,40],[4.26,30],[4.36,33],[4.45,38],[4.55,24],[4.64,31],[4.74,28],[4.84,30],[4.87,27]];
const d600_480 = [[-0.05,12],[0.0,14],[0.06,27],[0.13,45],[0.19,59],[0.22,55],[0.29,33],[0.35,15],[0.42,27],[0.48,67],[0.53,97],[0.58,83],[0.64,30],[0.71,12],[0.77,39],[0.85,73],[0.90,55],[0.97,27],[1.03,12],[1.10,33],[1.16,56],[1.23,50],[1.29,24],[1.36,12],[1.42,39],[1.49,57],[1.55,42],[1.65,12],[1.75,33],[1.83,52],[1.91,33],[1.98,12],[2.07,30],[2.13,49],[2.20,30],[2.30,12],[2.40,28],[2.46,45],[2.53,28],[2.63,12],[2.72,30],[2.79,40],[2.87,27],[2.95,14],[3.05,27],[3.11,34],[3.21,21],[3.31,15],[3.40,30],[3.47,22],[3.57,15],[3.66,27],[3.73,22],[3.83,18],[3.92,21],[4.05,33],[4.15,21],[4.25,15],[4.35,30],[4.45,18],[4.6,28],[4.75,14],[4.85,22],[4.98,12]];

// which traces end in sparse straight-line segments (linear from this time on)
const linearFrom = {"500_500": 2.99};

const traces = [
  {pump:480, probe:500, values:d480_500},
  {pump:490, probe:500, values:d490_500},
  {pump:500, probe:456, values:d500_456},
  {pump:500, probe:480, values:d500_480},
  {pump:500, probe:490, values:d500_490},
  {pump:500, probe:500, values:d500_500},
  {pump:510, probe:480, values:d510_480},
  {pump:510, probe:490, values:d510_490},
  {pump:510, probe:500, values:d510_500},
  {pump:520, probe:456, values:d520_456},
  {pump:520, probe:480, values:d520_480},
  {pump:520, probe:490, values:d520_490},
  {pump:520, probe:500, values:d520_500},
  {pump:530, probe:480, values:d530_480},
  {pump:530, probe:490, values:d530_490},
  {pump:530, probe:500, values:d530_500},
  {pump:540, probe:456, values:d540_456},
  {pump:540, probe:480, values:d540_480},
  {pump:540, probe:490, values:d540_490},
  {pump:540, probe:500, values:d540_500},
  {pump:550, probe:456, values:d550_456},
  {pump:550, probe:480, values:d550_480},
  {pump:550, probe:490, values:d550_490},
  {pump:550, probe:500, values:d550_500},
  {pump:560, probe:480, values:d560_480},
  {pump:560, probe:490, values:d560_490},
  {pump:560, probe:500, values:d560_500},
  {pump:570, probe:456, values:d570_456},
  {pump:570, probe:480, values:d570_480},
  {pump:570, probe:490, values:d570_490},
  {pump:570, probe:500, values:d570_500},
  {pump:580, probe:456, values:d580_456},
  {pump:580, probe:480, values:d580_480},
  {pump:580, probe:490, values:d580_490},
  {pump:580, probe:500, values:d580_500},
  {pump:590, probe:456, values:d590_456},
  {pump:590, probe:480, values:d590_480},
  {pump:590, probe:490, values:d590_490},
  {pump:600, probe:456, values:d600_456},
  {pump:600, probe:480, values:d600_480}
];

// ---------------- layout ----------------
const gridLeft = 152, colW = 258, gridTop = 98.9, rowH = 113.6;
const probeLabelNudge = [5, 9, 1, -13];
const rowLabelRight = [141,139,136,141,141,143,141,139,141,150,141,139,139];
const rowLabelDy = [6,2,2,-1,1,5,5,6,7,-5,-5,-2,-4];
const tpsBaseline = [1643, 1643, 1657, 1657];
const tpsX = [282, 538, 803, 1059];

const svg = d3.select("#chart");
const colBand = d3.scaleBand().domain(probeWavelengths).range([gridLeft, gridLeft + colW*probeWavelengths.length]).padding(0);
const rowBand = d3.scaleBand().domain(pumpWavelengths).range([gridTop, gridTop + rowH*pumpWavelengths.length]).padding(0);
const gridBottom = gridTop + rowH*pumpWavelengths.length;

const xFor = p => d3.scaleLinear().domain(timeDomain).range([colBand(p), colBand(p) + colBand.bandwidth()]);
const yFor = r => d3.scaleLinear().domain(signalDomain).range([rowBand(r) + rowBand.bandwidth(), rowBand(r)]);

// horizontal panel borders with ticks (bottom edge of every row)
pumpWavelengths.forEach((pump, ri) => {
  const yb = rowBand(pump) + rowBand.bandwidth();
  const isLast = ri === pumpWavelengths.length - 1;
  probeWavelengths.forEach(probe => {
    const x = xFor(probe);
    const ax = d3.axisBottom(x).tickValues(timeMinorTicks).tickSizeInner(isLast ? 5 : 4).tickSizeOuter(0).tickPadding(7)
      .tickFormat(d => (isLast && timeTickLabels.includes(d)) ? d : "");
    const g = svg.append("g").attr("transform", `translate(0,${yb})`).call(ax);
    g.select(".domain").attr("d", `M${colBand(probe)},0H${colBand(probe)+colBand.bandwidth()}`).attr("stroke","#000").attr("stroke-width",1.6);
    g.selectAll(".tick line").attr("stroke","#000").attr("stroke-width",1.1);
    g.selectAll(".tick text").attr("font-size", 28).attr("font-family","'Liberation Sans',Arial,sans-serif").attr("fill","#000");
  });
});

// vertical axes with small ticks
const vTick = d3.scaleLinear().domain([0, pumpWavelengths.length*6]).range([gridTop, gridBottom]);
probeWavelengths.forEach(probe => {
  const ax = d3.axisLeft(vTick).tickValues(d3.range(0, pumpWavelengths.length*6 + 1)).tickSizeInner(3).tickSizeOuter(0).tickFormat("");
  const g = svg.append("g").attr("transform", `translate(${colBand(probe)},0)`).call(ax);
  g.select(".domain").attr("stroke","#000").attr("stroke-width",1.6);
  g.selectAll(".tick line").attr("stroke","#000").attr("stroke-width",1);
});

// traces
traces.forEach(tr => {
  const x = xFor(tr.probe), y = yFor(tr.pump);
  const lf = linearFrom[`${tr.pump}_${tr.probe}`];
  const smooth = d3.line().curve(d3.curveMonotoneX).x(d => x(d[0])).y(d => y(d[1]));
  const straight = d3.line().x(d => x(d[0])).y(d => y(d[1]));
  const parts = lf === undefined ? [[tr.values, smooth]] :
    [[tr.values.filter(d => d[0] <= lf), smooth], [tr.values.filter(d => d[0] >= lf), straight]];
  parts.forEach(([vals, gen]) => {
    svg.append("path").attr("d", gen(vals)).attr("fill","none").attr("stroke","#000").attr("stroke-width",1.25).attr("stroke-linejoin","round");
  });
});

// probe (column) headers
probeWavelengths.forEach((p, i) => {
  svg.append("text").attr("x", colBand(p) + colBand.bandwidth()/2 + probeLabelNudge[i]).attr("y", 71)
    .attr("text-anchor","middle").attr("font-size", 51).attr("textLength", 78).attr("lengthAdjust","spacingAndGlyphs").text(p);
});

// pump (row) labels
pumpWavelengths.forEach((p, i) => {
  const cy = rowBand(p) + rowBand.bandwidth()/2 + rowLabelDy[i];
  svg.append("text").attr("x", rowLabelRight[i] - 79).attr("y", cy + 19)
    .attr("font-size", 52).attr("textLength", 79).attr("lengthAdjust","spacingAndGlyphs").text(p);
});

// t / ps labels
probeWavelengths.forEach((p, i) => {
  svg.append("text").attr("x", tpsX[i]).attr("y", tpsBaseline[i]).attr("text-anchor","middle").attr("font-size", 30).text("t / ps");
});

// corner: diagonal and lambda labels
svg.append("line").attr("x1",10).attr("y1",23).attr("x2",149).attr("y2",110).attr("stroke","#000").attr("stroke-width",1.3);
svg.append("text").attr("x",64).attr("y",43).attr("font-size",42).text("λ");
svg.append("text").attr("x",90).attr("y",63).attr("font-size",31).attr("textLength",70).attr("lengthAdjust","spacingAndGlyphs").text("probe");
svg.append("text").attr("x",14).attr("y",101).attr("font-size",42).text("λ");
svg.append("text").attr("x",40).attr("y",119).attr("font-size",32).attr("textLength",68).attr("lengthAdjust","spacingAndGlyphs").text("pump");
</script>
</body></html>
